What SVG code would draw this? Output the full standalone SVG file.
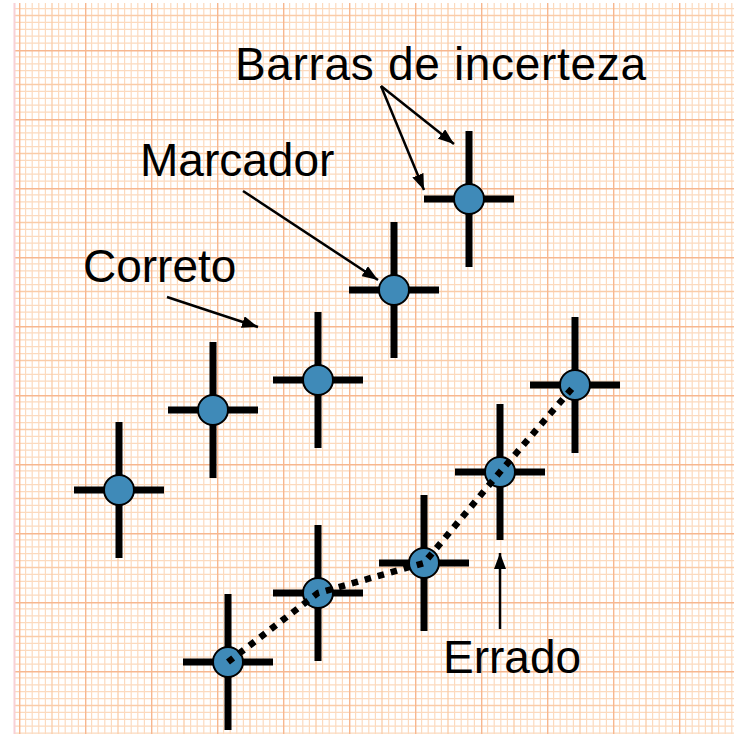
<svg xmlns="http://www.w3.org/2000/svg" width="734" height="734" viewBox="0 0 734 734">
<defs>
<pattern id="grid" patternUnits="userSpaceOnUse" x="19" y="50" width="66" height="69">
<g stroke="#FCDABE" stroke-width="1.2">
<path d="M6.6 0V69M13.2 0V69M19.8 0V69M26.4 0V69M39.6 0V69M46.2 0V69M52.8 0V69M59.4 0V69"/>
<path d="M0 6.9H66M0 13.8H66M0 20.7H66M0 27.6H66M0 41.4H66M0 48.3H66M0 55.2H66M0 62.1H66"/>
</g>
<g stroke="#FACCA8" stroke-width="1.3">
<path d="M33 0V69M0 34.5H66"/>
</g>
<g stroke="#F7B78F" stroke-width="1.8">
<path d="M0.5 0V69M0 0.5H66"/>
</g>
</pattern>
<marker id="ah" viewBox="0 0 16 12" refX="16" refY="6" markerWidth="16" markerHeight="12" markerUnits="userSpaceOnUse" orient="auto">
<path d="M0 0L16 6L0 12Z" fill="#000"/>
</marker>
<g id="eb">
<path d="M0 -68V68M-45 0H45" stroke="#000" stroke-width="7" fill="none"/>
<circle r="15" fill="#3F8AB8" stroke="#000" stroke-width="2"/>
</g>
</defs>
<style>
.lbl{font-family:"Liberation Sans",Arial,sans-serif;font-size:46px;fill:#000}
.arr{stroke:#000;stroke-width:2.5;fill:none;marker-end:url(#ah)}
</style>
<rect width="734" height="734" fill="#fff"/>
<rect x="14" y="3" width="720" height="731" fill="url(#grid)"/>
<path d="M14.5 3V734" stroke="#F8D0D6" stroke-width="2"/>
<g id="node-c1"><use href="#eb" x="119" y="490"/></g>
<g id="node-c2"><use href="#eb" x="213" y="410"/></g>
<g id="node-c3"><use href="#eb" x="318" y="380"/></g>
<g id="node-c4"><use href="#eb" x="394" y="290"/></g>
<g id="node-c5"><use href="#eb" x="469" y="199"/></g>
<g id="node-e1"><use href="#eb" x="228" y="662"/></g>
<g id="node-e2"><use href="#eb" x="318" y="593"/></g>
<g id="node-e3"><use href="#eb" x="424" y="563"/></g>
<g id="node-e4"><use href="#eb" x="500" y="472"/></g>
<g id="node-e5"><use href="#eb" x="575" y="385"/></g>
<g id="connectors">
<path d="M228 662L318 593L424 563L500 472L575 385" stroke="#000" stroke-width="6.5" stroke-dasharray="6.5 7" fill="none"/>
<path class="arr" d="M381 86L454 144"/>
<path class="arr" d="M381 86L424 190"/>
<path class="arr" d="M243 191L378 280"/>
<path class="arr" d="M167 297L258 327"/>
<path class="arr" d="M500 629V553"/>
</g>
<g id="label-barras"><text class="lbl" x="235" y="80" textLength="411" lengthAdjust="spacing">Barras de incerteza</text></g>
<g id="label-marcador"><text class="lbl" x="140" y="176">Marcador</text></g>
<g id="label-correto"><text class="lbl" x="83" y="282">Correto</text></g>
<g id="label-errado"><text class="lbl" x="443" y="673">Errado</text></g>
</svg>
